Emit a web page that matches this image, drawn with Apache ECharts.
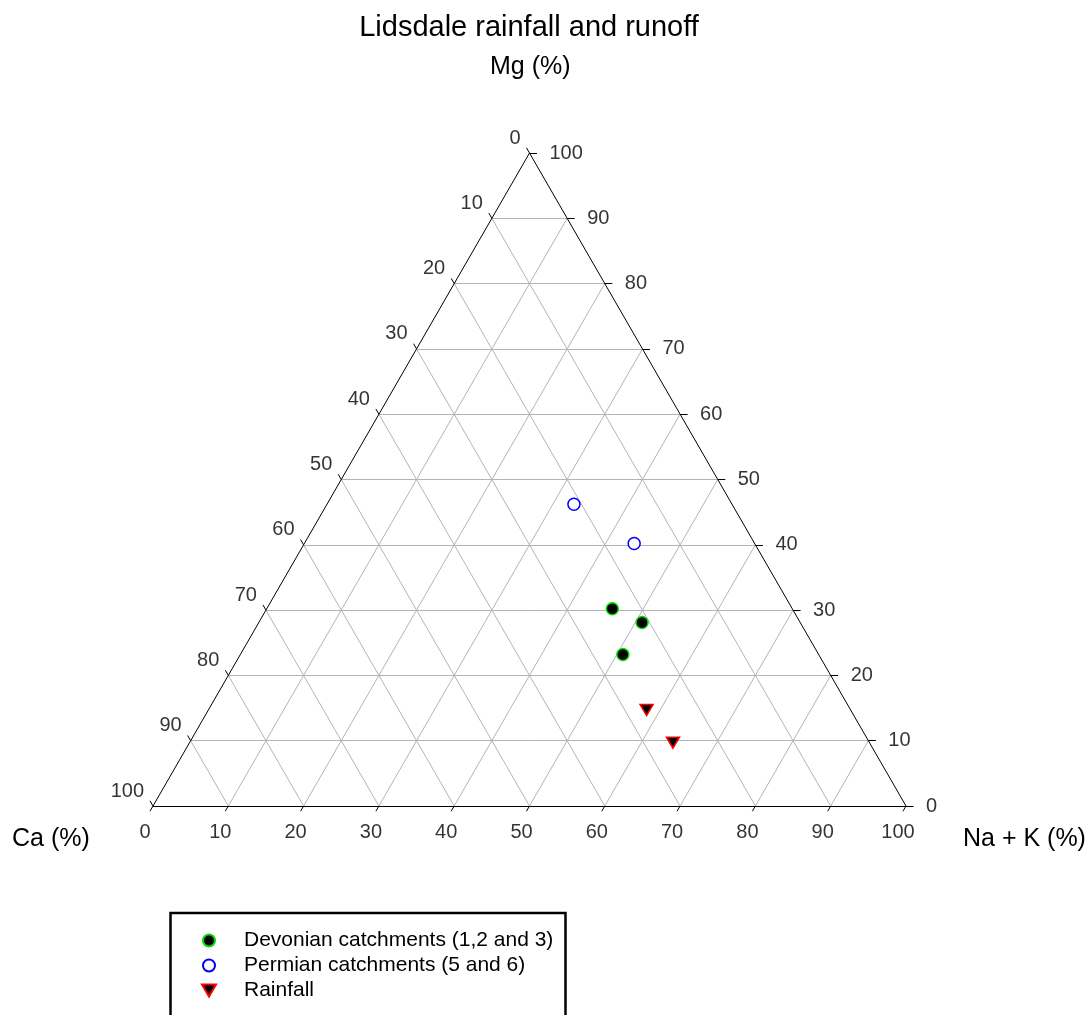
<!DOCTYPE html>
<html>
<head>
<meta charset="utf-8">
<script src="https://cdn.jsdelivr.net/npm/echarts@6/dist/echarts.min.js"></script>
<style>
html, body { margin: 0; padding: 0; background: #fff; }
#main { width: 1092px; height: 1015px; }
</style>
</head>
<body>
<div id="main"></div>
<script>
// tick values shared by the three axes
const tickValues = [0, 10, 20, 30, 40, 50, 60, 70, 80, 90, 100];
const gridValues = [10, 20, 30, 40, 50, 60, 70, 80, 90];

// samples, in percent: Ca, Mg, Na + K
const devonianCa  = [23.9, 21.0, 26.0];
const devonianMg  = [30.2, 28.1, 23.2];
const devonianNaK = [45.9, 50.9, 50.8];

const permianCa  = [21.0, 16.0];
const permianMg  = [46.2, 40.2];
const permianNaK = [32.8, 43.8];

const rainCa  = [27.1, 26.1];
const rainMg  = [14.7, 9.7];
const rainNaK = [58.2, 64.2];

const FONT = '"Liberation Sans", Arial, sans-serif';
const H = Math.sqrt(3) / 2;

// ternary -> plain x/y of the triangle (side 100)
function xy(mg, nak) {
    return [nak + mg / 2, mg * H];
}
function toXY(ca, mg, nak) {
    let s = ca + mg + nak;
    return xy(100 * mg / s, 100 * nak / s);
}
function points(ca, mg, nak) {
    let out = [];
    for (let i = 0; i < ca.length; i++) {
        out.push(toXY(ca[i], mg[i], nak[i]));
    }
    return out;
}

// grid lines of the three families
let gridLines = [];
gridValues.forEach(function (v) {
    gridLines.push({coords: [xy(v, 0), xy(v, 100 - v)]});       // Mg constant
    gridLines.push({coords: [xy(0, v), xy(100 - v, v)]});       // Na+K constant
    gridLines.push({coords: [xy(100 - v, 0), xy(0, 100 - v)]}); // Ca constant
});

// frame and little ticks
let frameLines = [
    {coords: [xy(0, 0), xy(0, 100)]},
    {coords: [xy(0, 100), xy(100, 0)]},
    {coords: [xy(100, 0), xy(0, 0)]}
];
let bottomLabels = [], rightLabels = [], leftLabels = [];
tickValues.forEach(function (v) {
    frameLines.push({coords: [xy(0, v), xy(-0.8, v)]});
    frameLines.push({coords: [xy(v, 100 - v), xy(v, 101 - v)]});
    frameLines.push({coords: [xy(100 - v, 0), xy(100.8 - v, -0.8)]});
    bottomLabels.push(xy(0, v).concat([v]));
    rightLabels.push(xy(v, 100 - v).concat([v]));
    leftLabels.push(xy(100 - v, 0).concat([v]));
});

function labelSeries(data, align, offset) {
    return {
        type: 'scatter',
        data: data,
        symbolSize: 0,
        silent: true,
        clip: false,
        itemStyle: {color: '#000'},
        label: {
            show: true,
            position: 'inside',
            align: align,
            verticalAlign: 'middle',
            offset: offset,
            color: '#000',
            textBorderWidth: 0,
            fontSize: 20,
            fontFamily: FONT,
            formatter: function (p) { return p.value[2]; }
        }
    };
}

let myChart = echarts.init(document.getElementById('main'));

let option = {
    animation: false,
    backgroundColor: '#fff',
    title: {
        text: 'Lidsdale rainfall and runoff',
        left: 524,
        top: 8,
        textAlign: 'center',
        textStyle: {color: '#000', fontSize: 29, fontWeight: 'normal', fontFamily: FONT}
    },
    grid: {left: 153, top: 153, width: 753, height: 653},
    xAxis: {type: 'value', min: 0, max: 100, show: false},
    yAxis: {type: 'value', min: 0, max: 100 * H, show: false},
    legend: {
        orient: 'vertical',
        left: 201,
        top: 930,
        data: [
            'Devonian catchments (1,2 and 3)',
            'Permian catchments (5 and 6)',
            {name: 'Rainfall', icon: 'path://M0,0 L20,0 L10,17 Z'}
        ],
        itemWidth: 14,
        itemHeight: 12,
        itemGap: 4,
        padding: 0,
        textStyle: {color: '#000', fontSize: 21, fontFamily: FONT, padding: [0, 0, 0, 23]}
    },
    graphic: [
        {type: 'text', left: 490, top: 55, style: {text: 'Mg (%)', fill: '#000', font: '25px ' + FONT}},
        {type: 'text', left: 12, top: 827, style: {text: 'Ca (%)', fill: '#000', font: '25px ' + FONT}},
        {type: 'text', left: 963, top: 827, style: {text: 'Na + K (%)', fill: '#000', font: '25px ' + FONT}},
        {
            type: 'rect',
            z: -1,
            shape: {x: 170.5, y: 913, width: 395, height: 130},
            style: {fill: 'none', stroke: '#000', lineWidth: 2.5}
        }
    ],
    series: [
        {
            type: 'lines',
            coordinateSystem: 'cartesian2d',
            data: gridLines,
            clip: false,
            silent: true,
            lineStyle: {color: '#b4b4b4', width: 1, opacity: 1}
        },
        {
            type: 'lines',
            coordinateSystem: 'cartesian2d',
            data: frameLines,
            clip: false,
            silent: true,
            lineStyle: {color: '#000', width: 1, opacity: 1}
        },
        labelSeries(bottomLabels, 'center', [-8, 26]),
        labelSeries(rightLabels, 'left', [20, 0]),
        labelSeries(leftLabels, 'right', [-9, -15]),
        {
            name: 'Devonian catchments (1,2 and 3)',
            type: 'scatter',
            clip: false,
            data: points(devonianCa, devonianMg, devonianNaK),
            symbol: 'circle',
            symbolSize: 12,
            itemStyle: {color: '#000', borderColor: '#00e000', borderWidth: 1.5, opacity: 1}
        },
        {
            name: 'Permian catchments (5 and 6)',
            type: 'scatter',
            clip: false,
            data: points(permianCa, permianMg, permianNaK),
            symbol: 'circle',
            symbolSize: 12,
            itemStyle: {color: '#fff', borderColor: '#0000ff', borderWidth: 1.5, opacity: 1}
        },
        {
            name: 'Rainfall',
            type: 'scatter',
            clip: false,
            data: points(rainCa, rainMg, rainNaK),
            symbol: 'triangle',
            symbolRotate: 180,
            symbolSize: [13, 11],
            itemStyle: {color: '#000', borderColor: '#ff0000', borderWidth: 1.5, opacity: 1}
        }
    ]
};

myChart.setOption(option);
</script>
</body>
</html>
